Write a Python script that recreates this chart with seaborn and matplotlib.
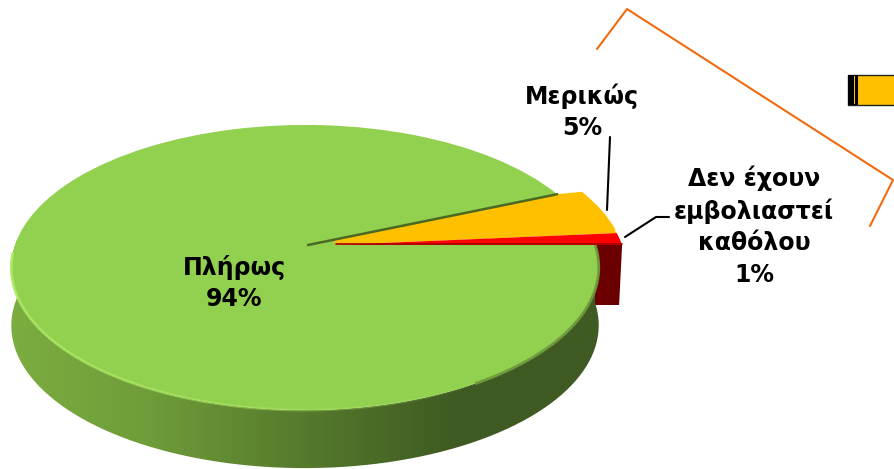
import numpy as np
import matplotlib
matplotlib.use("Agg")
import matplotlib.pyplot as plt
import matplotlib.transforms as mtransforms
from matplotlib.collections import LineCollection
from matplotlib.patches import PathPatch, Polygon, Rectangle
from matplotlib.path import Path
import seaborn as sns

# counter-clockwise from the horizontal cut on the right
labels = ["Δεν έχουν\nεμβολιαστεί\nκαθόλου", "Μερικώς", "Πλήρως"]
values = [1.4, 5.0, 93.6]
colors = ["#ff0000", "#ffc000", "#92d050"]
wall_stops = ["#7cae40", "#6e9c39", "#557a2c", "#3f5a22", "#3f5a22"]

sns.set_theme(style="white")
plt.rcParams["font.family"] = ["DejaVu Sans"]


class TiltTransform(mtransforms.Transform):
    """Unit circle to a tilted disc in pixel coordinates."""
    input_dims = 2
    output_dims = 2
    is_separable = False
    has_inverse = False

    def __init__(self, dy=0.0):
        super().__init__()
        self.dy = dy

    def transform_non_affine(self, xy):
        xy = np.asarray(xy, dtype=float)
        w = 1 + 0.158 * xy[:, 1] + 0.01 * xy[:, 0]
        return np.column_stack([308 + 290 * xy[:, 0] / w,
                                245 + self.dy - 139 * xy[:, 1] / w])


def arc(theta1, theta2, dy=0.0, n=200):
    t = np.radians(np.linspace(theta1, theta2, n))
    return TiltTransform(dy).transform_non_affine(np.column_stack([np.cos(t), np.sin(t)]))


fig, ax = plt.subplots(figsize=(8.94, 4.69), dpi=100)
fig.subplots_adjust(0, 0, 1, 1)

wedges, _ = ax.pie(values, colors=colors, startangle=0, radius=1, wedgeprops={"linewidth": 0})
ax.set_aspect("auto")
ax.axis("off")

disc = TiltTransform()
red_shift = (0.095, 0.0)
yellow_shift = (0.095, 0.02)
for w, z in zip(wedges, [5, 4.8, 4]):
    w.set_transform(disc + ax.transData)
    w.set_zorder(z)
wedges[0].set_center(red_shift)
wedges[1].set_center(yellow_shift)

red_angle = np.radians(360 * values[0] / sum(values))
cut_angle = np.radians(360 * (values[0] + values[1]) / sum(values))
unit = lambda a, s=(0, 0): [np.cos(a) + s[0], np.sin(a) + s[1]]

# side of the red slice, behind everything green
start = disc.transform_non_affine(np.array([[red_shift[0], 0.0], unit(0, red_shift)]))
ax.add_patch(Polygon([start[0], start[1], start[1] + [-3, 60], start[0] + [0, 60]],
                     closed=True, fc="#6b0000", ec="none", zorder=1))

# side of the green slice with a left-to-right gradient
top = arc(165, 360)
low = arc(360, 165, dy=58)
outline = np.vstack([top, low, top[:1]])
wall = ax.imshow(np.linspace(0, 1, 256)[None, :], cmap=sns.blend_palette(wall_stops, as_cmap=True),
                 extent=(0, 610, 469, 240), aspect="auto", zorder=2)
wall.set_clip_path(PathPatch(Path(outline), transform=ax.transData))
ax.set_xlim(0, 894)
ax.set_ylim(469, 0)

# fill the gap the pulled-out slices leave behind them
cut = disc.transform_non_affine(np.array([[0, 0], unit(cut_angle)]))
red_tip = start[0]
on_cut = cut[0] + (cut[1] - cut[0]) * 0.105
back = disc.transform_non_affine(np.array([unit(cut_angle, yellow_shift), unit(red_angle, red_shift)]))
ax.add_patch(Polygon([red_tip, on_cut, cut[1], back[0], back[1]], closed=True,
                     fc=colors[1], ec="none", zorder=4.2))
ax.add_patch(Polygon([cut[0], on_cut, red_tip], closed=True, fc=colors[2], ec="none", zorder=4.2))

# light bevel along the front rim, fading to the right
rim = arc(183, 300, n=120)
segs = np.stack([rim[:-1], rim[1:]], axis=1)
fade = np.column_stack([np.tile(matplotlib.colors.to_rgb("#aeea62"), (len(segs), 1)),
                        np.linspace(1, 0, len(segs)) ** 0.7])
ax.add_collection(LineCollection(segs, colors=fade, linewidths=2, zorder=4.5))

# dark soft rim on the shaded right part
rim = arc(300, 360, n=60)
segs = np.stack([rim[:-1], rim[1:]], axis=1)
ax.add_collection(LineCollection(segs, colors="#6f9a3c", linewidths=2, zorder=4.5))

# dark cut edges
ax.plot(cut[:, 0], cut[:, 1], color="#4a6a22", lw=1.8, zorder=5.5)
ax.plot([red_tip[0], start[1][0]], [red_tip[1] - 0.5, start[1][1] - 0.5], color="#a80000", lw=1.2, zorder=5.5)

# data labels and leader lines
txt = dict(fontweight="bold", fontsize=17, color="black", ha="center", va="center",
           linespacing=1.38, zorder=7)
ax.text(234, 283, f"{labels[2]}\n{values[2]:.0f}%", **txt)
ax.text(582, 112, f"{labels[1]}\n{values[1]:.0f}%", **txt)
ax.text(754, 226, f"{labels[0]}\n{values[0]:.0f}%", **txt)
ax.plot([610, 607], [137, 210], color="black", lw=1.5, zorder=6)
ax.plot([625, 656, 669], [237, 217, 217], color="black", lw=1.5, zorder=6)

# clipped bits of the surrounding slide
ax.plot([597, 627, 893, 870], [49, 9, 180, 226], color="#f26a10", lw=1.5, zorder=6)
ax.add_patch(Rectangle((848, 75), 60, 30, fc="#ffc000", ec="#222222", lw=1, zorder=6))
ax.add_patch(Rectangle((848, 75), 10, 30, fc="black", ec="none", zorder=6.1))
ax.add_patch(Rectangle((853.5, 76), 1.5, 28, fc="#ffc000", ec="none", zorder=6.2))

fig.savefig("out.png", dpi=100)
